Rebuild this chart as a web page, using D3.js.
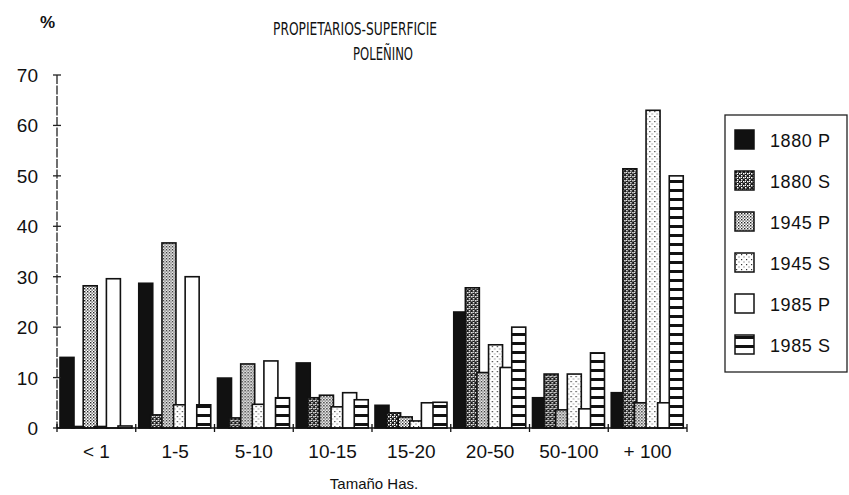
<!DOCTYPE html>
<html>
<head>
<meta charset="utf-8">
<script src="https://cdn.jsdelivr.net/npm/d3@7"></script>
<style>
  body { margin: 0; background: #fff; }
  svg text { font-family: "Liberation Sans", Arial, sans-serif; fill: #111; }
  .title { font-family: "Liberation Sans Narrow", "DejaVu Sans Condensed", "Arial Narrow", sans-serif; }
</style>
</head>
<body>
<div id="container"></div>
<script>
(function(){

  // data
  var categories = ["< 1", "1-5", "5-10", "10-15", "15-20", "20-50", "50-100", "+ 100"]
  var series = ["1880 P", "1880 S", "1945 P", "1945 S", "1985 P", "1985 S"]
  var p1880 = [14, 28.7, 9.9, 12.9, 4.5, 23, 6, 7]
  var s1880 = [0.3, 2.6, 2, 6, 3, 27.8, 10.7, 51.4]
  var p1945 = [28.2, 36.7, 12.7, 6.5, 2.2, 11, 3.6, 5]
  var s1945 = [0.3, 4.6, 4.7, 4.2, 1.4, 16.5, 10.7, 63]
  var p1985 = [29.6, 30, 13.3, 7, 5, 12, 3.8, 5]
  var s1985 = [0.4, 4.6, 6, 5.6, 5.1, 20, 14.9, 50]
  var yTicks = [0, 10, 20, 30, 40, 50, 60, 70]

  var values = [p1880, s1880, p1945, s1945, p1985, s1985]

  var width = 849, height = 495
  var margin = { top: 75, left: 57, right: 162, bottom: 67 }

  var svg = d3.select("#container")
    .append("svg")
      .attr("width", width)
      .attr("height", height)

  // fill patterns
  var defs = svg.append("defs")

  var pat = defs.append("pattern").attr("id", "pat0")
    .attr("patternUnits", "userSpaceOnUse").attr("width", 4).attr("height", 4)
  pat.append("rect").attr("width", 4).attr("height", 4).attr("fill", "#111")

  pat = defs.append("pattern").attr("id", "pat1")
    .attr("patternUnits", "userSpaceOnUse").attr("width", 4).attr("height", 4)
  pat.append("rect").attr("width", 4).attr("height", 4).attr("fill", "#1a1a1a")
  pat.append("rect").attr("x", 0).attr("y", 0).attr("width", 1.5).attr("height", 1.5).attr("fill", "#fff")
  pat.append("rect").attr("x", 2).attr("y", 2).attr("width", 1.5).attr("height", 1.5).attr("fill", "#fff")
  pat.append("rect").attr("x", 2).attr("y", 0).attr("width", 1).attr("height", 1).attr("fill", "#fff")

  pat = defs.append("pattern").attr("id", "pat2")
    .attr("patternUnits", "userSpaceOnUse").attr("width", 3).attr("height", 3)
  pat.append("rect").attr("width", 3).attr("height", 3).attr("fill", "#fff")
  pat.append("rect").attr("x", 0).attr("y", 0).attr("width", 1.4).attr("height", 1.4).attr("fill", "#222")
  pat.append("rect").attr("x", 1.5).attr("y", 1.5).attr("width", 1.2).attr("height", 1.2).attr("fill", "#222")

  pat = defs.append("pattern").attr("id", "pat3")
    .attr("patternUnits", "userSpaceOnUse").attr("width", 5).attr("height", 5)
  pat.append("rect").attr("width", 5).attr("height", 5).attr("fill", "#fff")
  pat.append("rect").attr("x", 1).attr("y", 1).attr("width", 1.2).attr("height", 1.2).attr("fill", "#333")
  pat.append("rect").attr("x", 3.5).attr("y", 3.5).attr("width", 1).attr("height", 1).attr("fill", "#555")

  pat = defs.append("pattern").attr("id", "pat4")
    .attr("patternUnits", "userSpaceOnUse").attr("width", 4).attr("height", 4)
  pat.append("rect").attr("width", 4).attr("height", 4).attr("fill", "#fff")

  pat = defs.append("pattern").attr("id", "pat5")
    .attr("patternUnits", "userSpaceOnUse").attr("width", 9).attr("height", 9)
  pat.append("rect").attr("width", 9).attr("height", 9).attr("fill", "#fff")
  pat.append("rect").attr("y", 0).attr("width", 9).attr("height", 3).attr("fill", "#111")

  // scales
  var x = d3.scaleBand()
    .domain(categories)
    .range([margin.left, margin.left + 630])

  var x1 = d3.scaleBand()
    .domain(series)
    .range([3, 3 + 6 * 11.6])

  var barW = x1.bandwidth() + 2.4

  var y = d3.scaleLinear()
    .domain([0, 70])
    .range([height - margin.bottom, margin.top])

  // bars
  var groups = svg.selectAll(".cat")
    .data(categories)
    .enter().append("g")
      .attr("class", "cat")
      .attr("transform", function(d){ return "translate(" + x(d) + ",0)" })

  groups.selectAll("rect")
    .data(function(d, i){
      return series.map(function(s, j){ return { key: s, idx: j, value: values[j][i] } })
    })
    .enter().append("rect")
      .attr("x", function(d){ return x1(d.key) })
      .attr("y", function(d){ return y(d.value) })
      .attr("width", barW)
      .attr("height", function(d){ return y(0) - y(d.value) })
      .attr("fill", function(d){ return "url(#pat" + d.idx + ")" })
      .attr("stroke", "#111")
      .attr("stroke-width", 1.6)

  // y axis
  var yAxis = svg.append("g")
  yAxis.append("line")
    .attr("x1", margin.left).attr("x2", margin.left)
    .attr("y1", y(70)).attr("y2", y(0))
    .attr("stroke", "#222").attr("stroke-width", 1.3)
    .attr("stroke-dasharray", "9,1.5")
  yAxis.selectAll(".yt")
    .data(yTicks)
    .enter().append("line")
      .attr("x1", margin.left - 4).attr("x2", margin.left + 4)
      .attr("y1", function(d){ return y(d) }).attr("y2", function(d){ return y(d) })
      .attr("stroke", "#222").attr("stroke-width", 1.3)
  yAxis.selectAll(".yl")
    .data(yTicks)
    .enter().append("text")
      .attr("x", 38)
      .attr("y", function(d){ return y(d) + 7 })
      .attr("text-anchor", "end")
      .style("font-size", "19px")
      .text(function(d){ return d })

  // x axis
  var xAxis = svg.append("g")
  xAxis.append("line")
    .attr("x1", margin.left).attr("x2", margin.left + 630)
    .attr("y1", y(0)).attr("y2", y(0))
    .attr("stroke", "#111").attr("stroke-width", 1.6)
  xAxis.selectAll(".xt")
    .data(categories.concat(["end"]))
    .enter().append("line")
      .attr("x1", function(d, i){ return margin.left + i * x.bandwidth() })
      .attr("x2", function(d, i){ return margin.left + i * x.bandwidth() })
      .attr("y1", y(0) - 4).attr("y2", y(0) + 4)
      .attr("stroke", "#111").attr("stroke-width", 1.3)
  xAxis.selectAll(".xl")
    .data(categories)
    .enter().append("text")
      .attr("x", function(d){ return x(d) + x.bandwidth() / 2 })
      .attr("y", 458)
      .attr("text-anchor", "middle")
      .style("font-size", "19px")
      .text(function(d){ return d })

  svg.append("text")
    .attr("x", 374).attr("y", 489)
    .attr("text-anchor", "middle")
    .style("font-size", "15px")
    .text("Tamaño Has.")

  // titles
  svg.append("text")
    .attr("class", "title")
    .attr("x", 273).attr("y", 35)
    .attr("textLength", 164).attr("lengthAdjust", "spacingAndGlyphs")
    .style("font-size", "18px")
    .text("PROPIETARIOS-SUPERFICIE")
  svg.append("text")
    .attr("class", "title")
    .attr("x", 353).attr("y", 60)
    .attr("textLength", 60).attr("lengthAdjust", "spacingAndGlyphs")
    .style("font-size", "18px")
    .text("POLEÑINO")
  svg.append("text")
    .attr("x", 40).attr("y", 28)
    .style("font-size", "17px")
    .style("font-weight", "bold")
    .text("%")

  // legend
  var legend = svg.append("g")
  legend.append("rect")
    .attr("x", 725).attr("y", 115)
    .attr("width", 122).attr("height", 257)
    .attr("fill", "none").attr("stroke", "#222").attr("stroke-width", 1.3)

  var items = legend.selectAll(".item")
    .data(series)
    .enter().append("g")
      .attr("transform", function(d, i){ return "translate(735," + (140 + i * 41) + ")" })
  items.append("rect")
    .attr("x", 0).attr("y", -10)
    .attr("width", 19).attr("height", 19)
    .attr("fill", function(d, i){ return "url(#pat" + i + ")" })
    .attr("stroke", "#111").attr("stroke-width", 1.5)
  items.append("text")
    .attr("x", 35).attr("y", 7)
    .style("font-size", "18px")
    .style("letter-spacing", "0.6px")
    .text(function(d){ return d })

})()
</script>
</body>
</html>
